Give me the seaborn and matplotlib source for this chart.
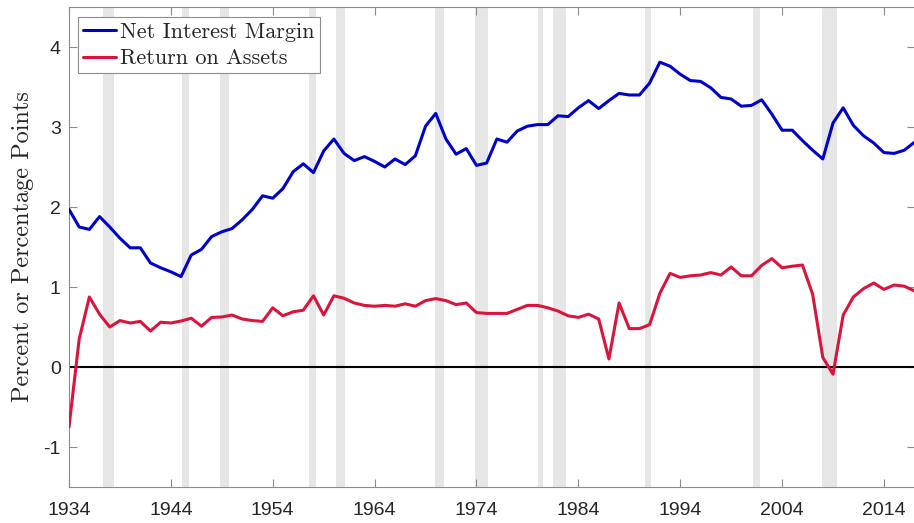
import numpy as np
import pandas as pd
import matplotlib
matplotlib.use("Agg")
import matplotlib.pyplot as plt
import seaborn as sns

sns.set_style("white")
plt.rcParams["font.family"] = ["Liberation Sans", "DejaVu Sans"]
plt.rcParams["axes.unicode_minus"] = False

years = list(range(1934, 2018))

nim = [1.97, 1.75, 1.72, 1.88, 1.75, 1.61, 1.49, 1.49, 1.30, 1.24,
       1.19, 1.13, 1.40, 1.47, 1.63, 1.69, 1.73, 1.84, 1.97, 2.14,
       2.11, 2.23, 2.44, 2.54, 2.43, 2.70, 2.85, 2.67, 2.58, 2.63,
       2.57, 2.50, 2.60, 2.53, 2.64, 3.01, 3.17, 2.85, 2.66, 2.73,
       2.52, 2.55, 2.85, 2.81, 2.95, 3.01, 3.03, 3.03, 3.14, 3.13,
       3.24, 3.33, 3.23, 3.33, 3.42, 3.40, 3.40, 3.55, 3.81, 3.76,
       3.66, 3.58, 3.57, 3.49, 3.37, 3.35, 3.26, 3.27, 3.34, 3.16,
       2.96, 2.96, 2.83, 2.71, 2.60, 3.05, 3.24, 3.02, 2.89, 2.80,
       2.68, 2.67, 2.71, 2.81]

roa = [-0.75, 0.35, 0.875, 0.66, 0.50, 0.58, 0.55, 0.57, 0.45, 0.56,
       0.55, 0.575, 0.61, 0.51, 0.62, 0.625, 0.65, 0.60, 0.58, 0.57,
       0.74, 0.64, 0.69, 0.71, 0.89, 0.65, 0.89, 0.86, 0.80, 0.77,
       0.76, 0.77, 0.76, 0.79, 0.76, 0.83, 0.855, 0.83, 0.78, 0.80,
       0.68, 0.67, 0.67, 0.67, 0.72, 0.77, 0.77, 0.74, 0.70, 0.64,
       0.62, 0.66, 0.60, 0.10, 0.80, 0.48, 0.48, 0.53, 0.92, 1.17,
       1.12, 1.14, 1.15, 1.18, 1.15, 1.25, 1.14, 1.14, 1.27, 1.355,
       1.24, 1.26, 1.275, 0.91, 0.12, -0.09, 0.65, 0.875, 0.98, 1.05,
       0.97, 1.025, 1.01, 0.95]

# NBER recessions (fractional years)
rec_start = [1937.33, 1945.08, 1948.83, 1957.58, 1960.25, 1969.92,
             1973.83, 1980.0, 1981.5, 1990.5, 2001.17, 2007.92]
rec_end = [1938.42, 1945.75, 1949.75, 1958.25, 1961.08, 1970.83,
           1975.17, 1980.5, 1982.83, 1991.17, 2001.83, 2009.42]

df = pd.DataFrame({"year": years, "Net Interest Margin": nim,
                   "Return on Assets": roa})

fig = plt.figure(figsize=(9.14, 5.23), dpi=100)
ax = fig.add_axes([69 / 914, 36 / 523, 845.5 / 914, 480 / 523])

for s, e in zip(rec_start, rec_end):
    ax.axvspan(s, e, color="#e6e6e6", lw=0, zorder=0)

ax.axhline(0, color="black", lw=1.5, zorder=1)

sns.lineplot(data=df, x="year", y="Net Interest Margin", color="#0000cc",
             lw=2.2, ax=ax, label="Net Interest Margin", zorder=3)
sns.lineplot(data=df, x="year", y="Return on Assets", color="#dc143c",
             lw=2.2, ax=ax, label="Return on Assets", zorder=3)

ax.set_xlim(1934, 2017)
ax.set_ylim(-1.5, 4.5)
ax.set_xticks(range(1934, 2018, 10))
ax.set_yticks([-1, 0, 1, 2, 3, 4])
ax.set_xlabel("")
ax.set_ylabel("Percent or Percentage Points", family="cmr10", fontsize=17.5,
              color="#262626", labelpad=7)

ax.tick_params(direction="in", length=5.5, width=0.8, color="#8c8c8c",
               labelsize=14, labelcolor="#262626", top=True, right=True,
               bottom=True, left=True)
ax.tick_params(axis="x", pad=11)
ax.tick_params(axis="y", pad=6)
for sp in ax.spines.values():
    sp.set_color("#8c8c8c")
    sp.set_linewidth(0.8)

leg = ax.legend(loc="upper left", bbox_to_anchor=(0.0106, 0.979),
                prop={"family": "cmr10", "size": 16}, handlelength=1.5,
                handletextpad=0.18, borderpad=0.22, labelspacing=0.33,
                borderaxespad=0, fancybox=False, framealpha=1)
leg.get_frame().set_edgecolor("#8c8c8c")
leg.get_frame().set_linewidth(0.8)

fig.savefig("out.png", dpi=100)
